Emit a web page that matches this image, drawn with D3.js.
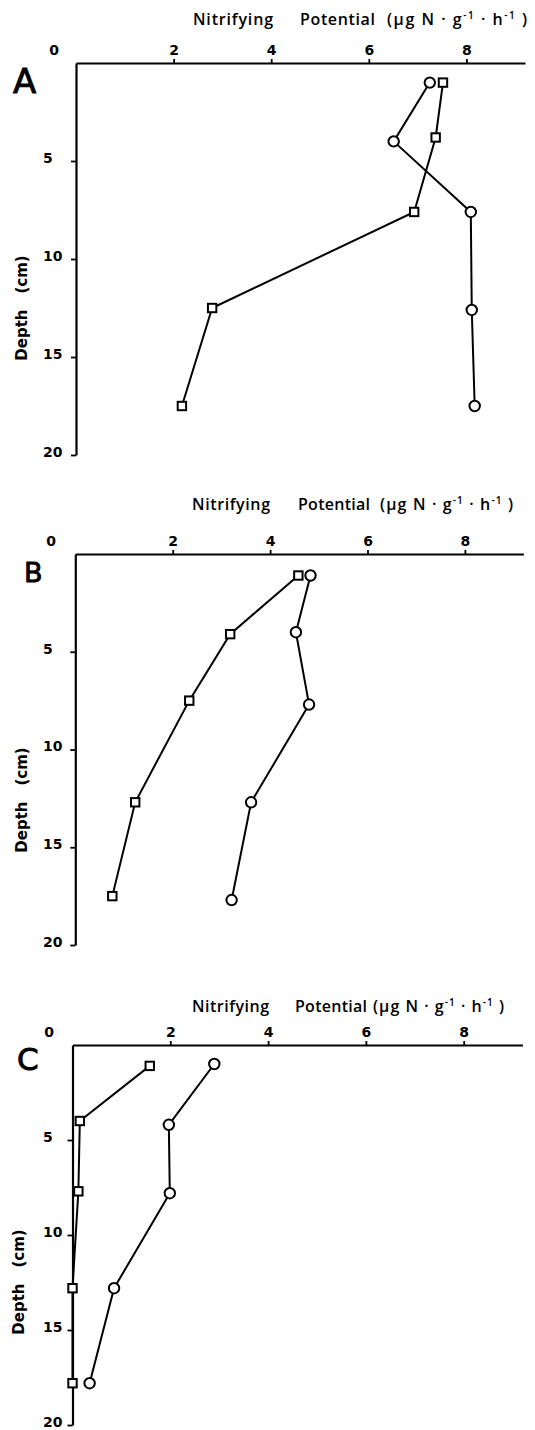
<!DOCTYPE html>
<html><head><meta charset="utf-8">
<script src="https://cdn.jsdelivr.net/npm/d3@7"></script>
<style>body{margin:0;background:#fff} svg{display:block}</style>
</head><body>
<svg id="chart" width="535" height="1430"></svg>
<script>
// ---------- data ----------
const panelLabels = ["A", "B", "C"];
const xTickValues = [2, 4, 6, 8];
const yTickValues = [5, 10, 15, 20];
const xTitleWords = ["Nitrifying", "Potential"];
const yTitleWords = ["Depth", "(cm)"];

// Panel A
const depthA_circle = [1.0, 4.0, 7.6, 12.6, 17.5];
const valueA_circle = [7.25, 6.51, 8.09, 8.11, 8.17];
const depthA_square = [1.0, 3.8, 7.6, 12.5, 17.5];
const valueA_square = [7.52, 7.37, 6.93, 2.79, 2.17];
// Panel B
const depthB_circle = [1.1, 4.0, 7.7, 12.7, 17.7];
const valueB_circle = [4.83, 4.53, 4.80, 3.61, 3.21];
const depthB_square = [1.1, 4.1, 7.5, 12.7, 17.5];
const valueB_square = [4.58, 3.18, 2.34, 1.23, 0.76];
// Panel C
const depthC_circle = [1.0, 4.2, 7.8, 12.8, 17.8];
const valueC_circle = [2.90, 1.97, 1.99, 0.85, 0.35];
const depthC_square = [1.1, 4.0, 7.7, 12.8, 17.8];
const valueC_square = [1.58, 0.15, 0.12, 0.0, 0.0];

// ---------- layout ----------
const layouts = [
  {x0:76, unit:48.8, yTop:63, yBot:455, ty:25, tx:[193,273,300,375,387,527], zeroX:54,
   lab:{x:13,y:93,s:34}, depX:26.5, depY:308},
  {x0:75.3, unit:48.7, yTop:554, yBot:945, ty:510, tx:[192,270,298,370,380,513], zeroX:51,
   lab:{x:24,y:582,s:27}, depX:26.5, depY:800},
  {x0:72.5, unit:48.9, yTop:1045, yBot:1425, ty:1012, tx:[192,269,295,367,373,504], zeroX:49,
   lab:{x:17,y:1070,s:31}, depX:24, depY:1282}
];
const series = [
  {circle:[depthA_circle, valueA_circle], square:[depthA_square, valueA_square]},
  {circle:[depthB_circle, valueB_circle], square:[depthB_square, valueB_square]},
  {circle:[depthC_circle, valueC_circle], square:[depthC_square, valueC_square]}
];
const X_MAX = 9.2;

const svg = d3.select("#chart");
const FONT = "'DejaVu Sans', sans-serif";
const TFONT = "'Open Sans', 'DejaVu Sans', sans-serif";

layouts.forEach((L, i) => {
  const g = svg.append("g");
  const x = d3.scaleLinear().domain([0, X_MAX]).range([L.x0, L.x0 + X_MAX * L.unit]);
  const y = d3.scaleLinear().domain([0, 20]).range([L.yTop, L.yBot]);

  // top axis
  const xa = g.append("g").attr("transform", `translate(0,${L.yTop})`)
    .call(d3.axisTop(x).tickValues(xTickValues).tickSize(4).tickSizeOuter(0).tickPadding(4));
  xa.select(".domain").attr("stroke", "#000").attr("stroke-width", 2.2);
  xa.selectAll(".tick line").attr("stroke", "#000").attr("stroke-width", 1.8);
  xa.selectAll(".tick text").attr("font-family", FONT).attr("font-weight", "bold")
    .attr("font-size", 14).attr("fill", "#000");
  // zero label
  g.append("text").attr("x", L.zeroX).attr("y", L.yTop - 8).attr("text-anchor", "middle")
    .attr("font-family", FONT).attr("font-weight", "bold").attr("font-size", 14).text("0");

  // left axis
  const ax = x(0);
  const ya = g.append("g").attr("transform", `translate(${ax},0)`)
    .call(d3.axisLeft(y).tickValues(yTickValues).tickSize(5).tickSizeOuter(0));
  ya.select(".domain").attr("stroke", "#000").attr("stroke-width", 2.2);
  ya.selectAll(".tick line").attr("stroke", "#000").attr("stroke-width", 1.8);
  ya.selectAll(".tick text").attr("font-family", FONT).attr("font-weight", "bold")
    .attr("font-size", 14).attr("fill", "#000")
    .attr("text-anchor", "start").attr("x", 43 - ax).attr("dy", "0.1em");

  // x title
  const tstyle = t => t.attr("font-family", TFONT).attr("font-weight", 600).attr("font-size", 16)
    .attr("y", L.ty).attr("lengthAdjust", "spacing");
  tstyle(g.append("text")).attr("x", L.tx[0]).attr("textLength", L.tx[1] - L.tx[0]).text(xTitleWords[0]);
  tstyle(g.append("text")).attr("x", L.tx[2]).attr("textLength", L.tx[3] - L.tx[2]).text(xTitleWords[1]);
  const t3 = tstyle(g.append("text")).attr("x", L.tx[4]).attr("textLength", L.tx[5] - L.tx[4]);
  t3.append("tspan").text("(µg N · g");
  t3.append("tspan").attr("dy", -6).attr("font-size", 10).text("-1");
  t3.append("tspan").attr("dy", 6).text(" · h");
  t3.append("tspan").attr("dy", -6).attr("font-size", 10).text("-1");
  t3.append("tspan").attr("dy", 6).text(" )");

  // y title
  const yt = g.append("text").attr("transform", `translate(${L.depX},${L.depY}) rotate(-90)`)
    .attr("text-anchor", "middle").attr("font-family", FONT).attr("font-weight", "bold")
    .attr("font-size", 15);
  yt.append("tspan").text(yTitleWords[0]);
  yt.append("tspan").attr("dx", 16).text(yTitleWords[1]);

  // panel label
  g.append("text").attr("x", L.lab.x).attr("y", L.lab.y).attr("font-family", FONT)
    .attr("font-size", L.lab.s).attr("stroke", "#000").attr("stroke-width", 0.9)
    .text(panelLabels[i]);

  // series
  const line = d3.line().x(d => x(d[1])).y(d => y(d[0]));
  ["square", "circle"].forEach(kind => {
    const pts = d3.zip(series[i][kind][0], series[i][kind][1]);
    g.append("path").attr("d", line(pts)).attr("fill", "none").attr("stroke", "#000")
      .attr("stroke-width", 2);
  });
  ["square", "circle"].forEach(kind => {
    const pts = d3.zip(series[i][kind][0], series[i][kind][1]);
    if (kind === "circle") {
      g.selectAll(null).data(pts).join("circle")
        .attr("cx", d => x(d[1])).attr("cy", d => y(d[0])).attr("r", 5.2)
        .attr("fill", "#fff").attr("stroke", "#000").attr("stroke-width", 2);
    } else {
      g.selectAll(null).data(pts).join("rect")
        .attr("x", d => x(d[1]) - 4.2).attr("y", d => y(d[0]) - 4.2)
        .attr("width", 8.4).attr("height", 8.4)
        .attr("fill", "#fff").attr("stroke", "#000").attr("stroke-width", 2);
    }
  });
});
</script>
</body></html>
